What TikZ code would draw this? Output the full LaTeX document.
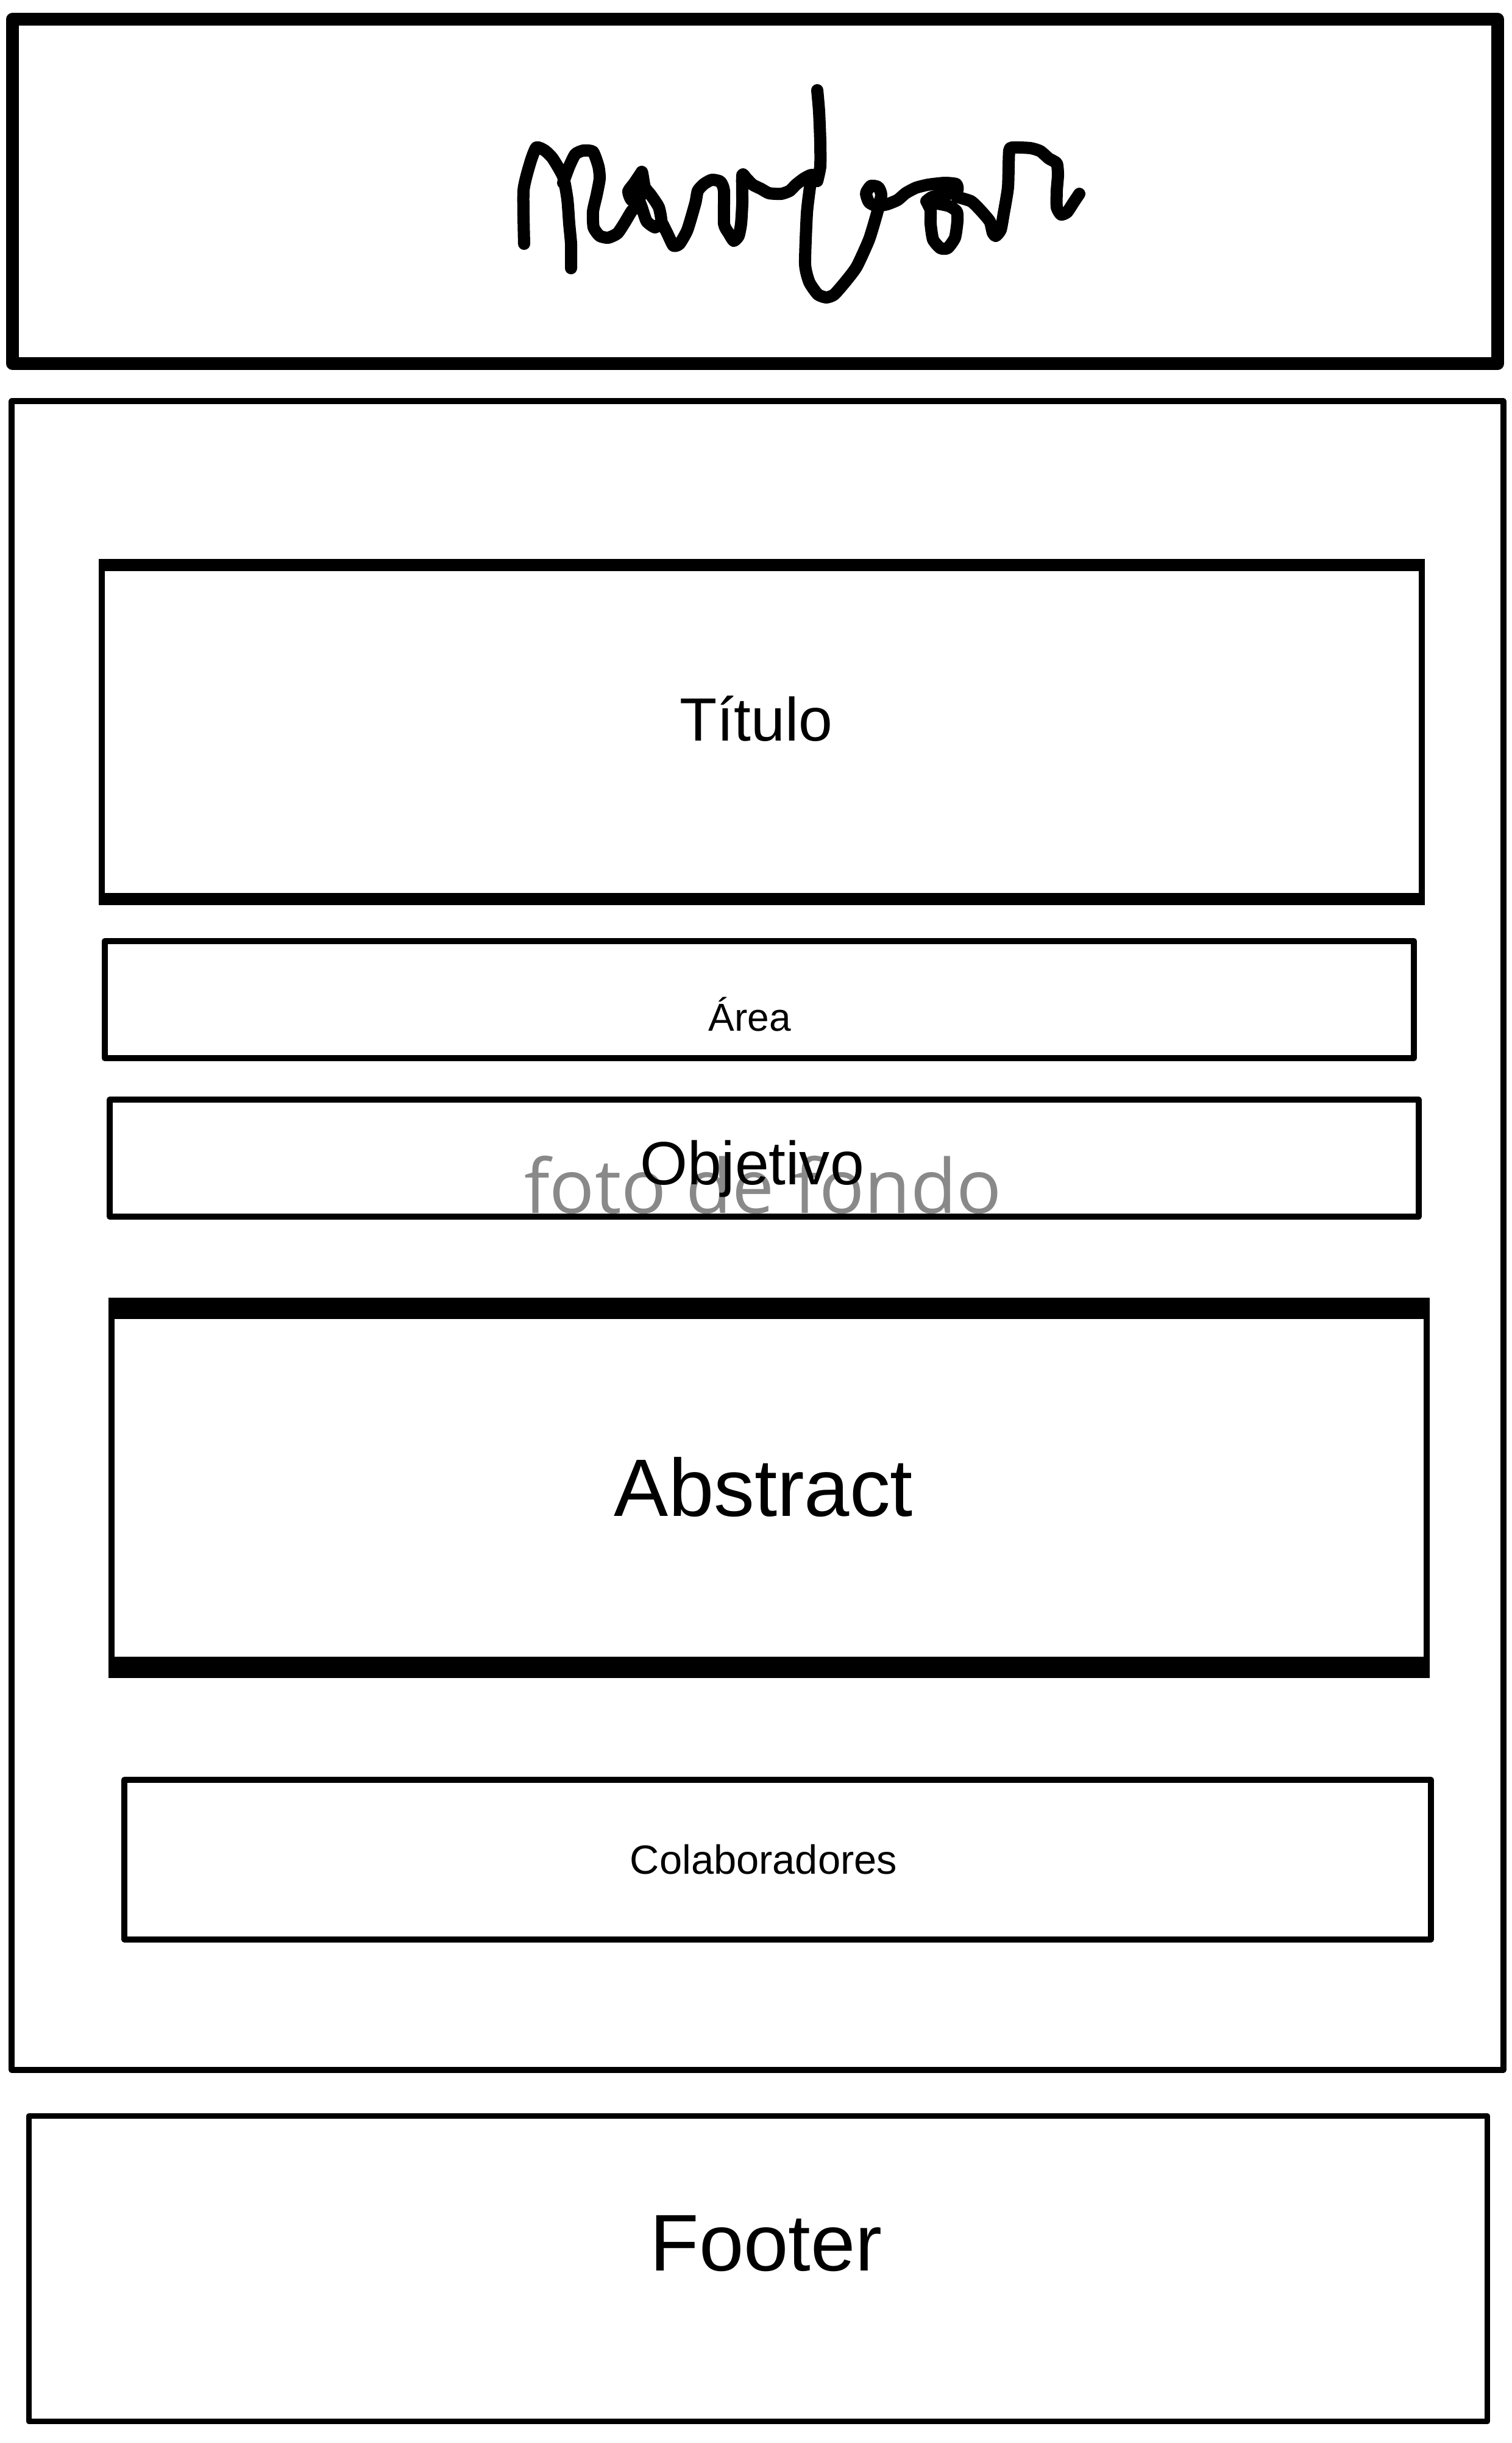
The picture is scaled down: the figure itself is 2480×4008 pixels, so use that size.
\documentclass[tikz,border=0pt]{standalone}
\usepackage{fontspec}
\setmainfont{Liberation Sans}
\newfontfamily\fondofont{Open Sans}
\usetikzlibrary{positioning}
\definecolor{gris}{HTML}{898989}
\newcommand{\tam}[1]{\fontsize{#1}{#1}\selectfont}

\begin{document}
\begin{tikzpicture}[x=0.01cm,y=-0.01cm,
        caja/.style={draw,rectangle,inner sep=0pt,line width=0.1cm,line join=round},
        borde/.style={line width=#1},
        rotulo/.style={anchor=base,inner sep=0pt},
        trazo/.style={line width=0.2cm,line cap=round,line join=round}]
    \useasboundingbox (0,0) rectangle (2480,4008);
    \node[caja,line width=0.21cm,minimum width=24.36cm,minimum height=5.64cm] (b_cabecera) at (1239,314) {};
    \node[caja,minimum width=24.46cm,minimum height=27.36cm] (b_cuerpo) at (1243,2027) {};
    \node[caja,minimum width=21.64cm,minimum height=5.38cm] (b_titulo) at (1250,1201) {};
    \node[caja,minimum width=21.47cm,minimum height=1.92cm] (b_area) at (1246,1640) {};
    \node[caja,minimum width=21.46cm,minimum height=1.92cm] (b_objetivo) at (1254,1900) {};
    \node[caja,minimum width=21.56cm,minimum height=5.79cm] (b_abstract) at (1262,2441) {};
    \node[caja,minimum width=21.43cm,minimum height=2.61cm] (b_colab) at (1276,3051) {};
    \node[caja,line width=0.09cm,minimum width=23.92cm,minimum height=5.01cm] (b_footer) at (1244,3722) {};
    \draw[borde=0.19cm] (b_titulo.north west) -- (b_titulo.north east);
    \draw[borde=0.19cm] (b_titulo.south west) -- (b_titulo.south east);
    \draw[borde=0.35cm] (b_abstract.north west) -- (b_abstract.north east);
    \draw[borde=0.35cm] (b_abstract.south west) -- (b_abstract.south east);

    \node[rotulo,text=gris] (t_fondo) at (1252,1990) {\fondofont\tam{35pt}foto de fondo};
    \node[rotulo] (t_titulo) at (1241,1215) {\tam{28.5pt}Título};
    \node[rotulo] (t_area) at (1230,1691) {\tam{18.2pt}Área};
    \node[rotulo] (t_objetivo) at (1234,1943) {\tam{28.5pt}Objetivo};
    \node[rotulo] (t_abstract) at (1253,2487) {\tam{38pt}Abstract};
    \node[rotulo] (t_colab) at (1253,3074) {\tam{19pt}Colaboradores};
    \node[rotulo] (t_footer) at (1257,3725) {\tam{37.5pt}Footer};

    \draw[trazo]
        plot[smooth,tension=0.35] coordinates {(860,400) (859,313) (870,267) (880,242) (894,247) (907,260) (924,290) (931,327) (934,367) (937,400) (937,440)}
        plot[smooth,tension=0.35] coordinates {(924,300) (934,273) (944,253) (957,247) (973,249) (982,273) (984,293) (979,320) (973,347) (974,373) (984,387) (998,390) (1013,383) (1024,367) (1036,347) (1049,330) (1053,282) (1058,307) (1068,320) (1081,340) (1085,363) (1075,373) (1061,363) (1053,340) (1049,330)}
        plot[smooth,tension=0.35] coordinates {(1053,282) (1041,300) (1031,314) (1036,328) (1049,330)}
        plot[smooth,tension=0.35] coordinates {(1085,363) (1095,383) (1105,403) (1115,400) (1128,377) (1141,333) (1145,313) (1155,302) (1168,295) (1182,298) (1188,313) (1188,367) (1196,383) (1204,395) (1212,387) (1216,367) (1218,333) (1218,287) (1225,293) (1235,303) (1249,310) (1262,317) (1282,318) (1296,313) (1306,303) (1319,293) (1332,287) (1341,297)}
        plot[smooth,tension=0.35] coordinates {(1341,297) (1346,273) (1346,233) (1344,183) (1341,148)}
        plot[smooth,tension=0.35] coordinates {(1332,287) (1329,307) (1324,350) (1321,433) (1328,463) (1342,483) (1356,488) (1369,483) (1389,460) (1406,437) (1426,393) (1439,350) (1446,320) (1441,307) (1429,305) (1421,317) (1426,332) (1439,338) (1456,335) (1473,328) (1486,317) (1503,308) (1523,303) (1550,300) (1569,302) (1571,312) (1557,318) (1530,323) (1520,330)}
        plot[smooth,tension=0.35] coordinates {(1520,330) (1527,345) (1527,367) (1531,393) (1543,407) (1555,407) (1567,390) (1571,363) (1570,347) (1557,338) (1533,333) (1520,330)}
        plot[smooth,tension=0.35] coordinates {(1570,323) (1593,330) (1607,343) (1624,363) (1629,382) (1634,387) (1642,377) (1647,350) (1654,307) (1656,247) (1664,242) (1691,243) (1707,248) (1721,260) (1734,268) (1736,287) (1734,313) (1734,340) (1741,352) (1751,348) (1761,333) (1771,318)};
\end{tikzpicture}
\end{document}
